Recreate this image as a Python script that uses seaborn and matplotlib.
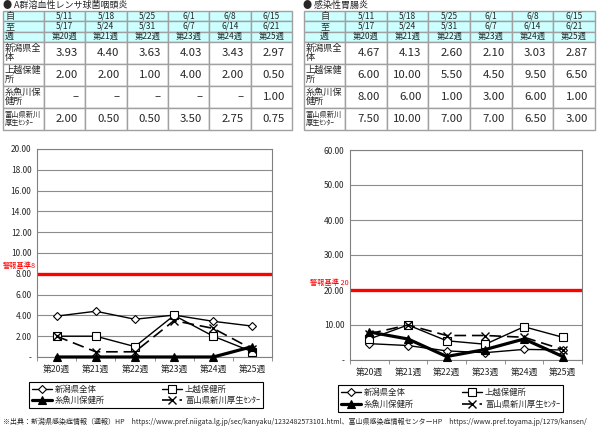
import numpy as np
import pandas as pd
import matplotlib
matplotlib.use("Agg")
import matplotlib.pyplot as plt
import matplotlib.transforms as mtransforms
from matplotlib.table import Table
import seaborn as sns

# table / chart data
from_dates = ['5/11', '5/18', '5/25', '6/1', '6/8', '6/15']
to_dates = ['5/17', '5/24', '5/31', '6/7', '6/14', '6/21']
weeks = ['第20週', '第21週', '第22週', '第23週', '第24週', '第25週']

areas = ['新潟県全体', '上越保健所', '糸魚川保健所', '富山県新川厚生ｾﾝﾀｰ']
area_rows = ['新潟県全\n体', '上越保健\n所', '糸魚川保\n健所', '富山県新川\n厚生ｾﾝﾀｰ']

strep_niigata = [3.93, 4.40, 3.63, 4.03, 3.43, 2.97]
strep_joetsu = [2.00, 2.00, 1.00, 4.00, 2.00, 0.50]
strep_itoigawa = [None, None, None, None, None, 1.00]
strep_toyama = [2.00, 0.50, 0.50, 3.50, 2.75, 0.75]

gastro_niigata = [4.67, 4.13, 2.60, 2.10, 3.03, 2.87]
gastro_joetsu = [6.00, 10.00, 5.50, 4.50, 9.50, 6.50]
gastro_itoigawa = [8.00, 6.00, 1.00, 3.00, 6.00, 1.00]
gastro_toyama = [7.50, 10.00, 7.00, 7.00, 6.50, 3.00]

strep_level = 8
gastro_level = 20

sns.set_style("white")
plt.rcParams['font.family'] = ['Noto Sans CJK JP', 'DejaVu Sans']

W, H = 600, 430
fig = plt.figure(figsize=(6, 4.3), dpi=100)


def rect(x0, y0, x1, y1):
    # pixel box (top-left origin) -> figure fraction
    return [x0 / W, 1 - y1 / H, (x1 - x0) / W, (y1 - y0) / H]


base = fig.add_axes([0, 0, 1, 1])
base.axis('off')
base.set_xlim(0, W)
base.set_ylim(H, 0)


def draw_table(box, series, head_loc):
    ax = fig.add_axes(rect(*box))
    ax.axis('off')
    tb = Table(ax, bbox=[0, 0, 1, 1])
    tb.auto_set_font_size(False)
    widths = [41] + [41.5] * 6
    heights = [10.3] * 3 + [22] * 4
    edge = '#a0a0a0'
    header = [['自'] + from_dates, ['至'] + to_dates, ['週'] + weeks]
    for r, row in enumerate(header):
        for c, txt in enumerate(row):
            cell = tb.add_cell(r, c, widths[c], heights[r], text=txt,
                               loc=head_loc if c == 0 else 'center',
                               facecolor='#ccffff', edgecolor=edge)
            cell.PAD = 0.05
            cell.get_text().set_fontsize(6.5 if c == 0 else 6)
    for i, vals in enumerate(series):
        r = 3 + i
        cell = tb.add_cell(r, 0, widths[0], heights[r], text=area_rows[i],
                           loc='left', facecolor='white', edgecolor=edge)
        cell.PAD = 0.04
        cell.get_text().set_fontsize(5.2 if i == 3 else 6.6)
        cell.get_text().set_linespacing(1.0)
        for c, v in enumerate(vals):
            txt = '–' if v is None else f'{v:.2f}'
            cell = tb.add_cell(r, c + 1, widths[c + 1], heights[r], text=txt,
                               loc='right', facecolor='white', edgecolor=edge)
            cell.PAD = 0.17
            cell.get_text().set_fontsize(8.2)
    ax.add_table(tb)


def draw_chart(box, series, ymax, ystep, level, label, legend_box):
    ax = fig.add_axes(rect(*box))
    styles = [
        dict(lw=1, marker='D', markersize=4.5, markerfacecolor='white'),
        dict(lw=1, marker='s', markersize=5.5, markerfacecolor='white'),
        dict(lw=2.3, marker='^', markersize=6, markerfacecolor='black'),
        dict(lw=1.2, marker='x', markersize=6, linestyle=(0, (7, 3.5)),
             markeredgewidth=1),
    ]
    for name, vals, st in zip(areas, series, styles):
        df = pd.DataFrame({'week': weeks,
                           'value': [0 if v is None else v for v in vals]})
        st.setdefault('markeredgewidth', 0.8)
        sns.lineplot(data=df, x='week', y='value', ax=ax, sort=False,
                     errorbar=None, color='black', markeredgecolor='black',
                     label=name, clip_on=False, zorder=3, **st)
    if ax.get_legend() is not None:
        ax.get_legend().remove()
    ax.axhline(level, color='#ff0000', lw=2.4, zorder=2)
    trans = mtransforms.blended_transform_factory(ax.transAxes, ax.transData)
    ax.annotate(label, xy=(0, level), xycoords=trans, xytext=(-1, 2.5),
                textcoords='offset points', ha='right', va='bottom',
                color='#ff0000', fontsize=5.2, annotation_clip=False)

    ax.set_xlim(-0.5, len(weeks) - 0.5)
    ax.set_ylim(0, ymax)
    yt = np.arange(0, ymax + ystep / 2, ystep)
    ax.set_yticks(yt)
    ax.set_yticklabels(['-' if t == 0 else f'{t:.2f}' for t in yt])
    ax.set_xticks(np.arange(-0.5, len(weeks), 1), minor=True)
    ax.tick_params(axis='y', length=0, labelsize=6, pad=4)
    ax.tick_params(axis='x', which='major', length=0, labelsize=6.3, pad=6)
    ax.tick_params(axis='x', which='minor', length=3, color='#808080',
                   direction='out', bottom=True)
    ax.set_xlabel('')
    ax.set_ylabel('')
    ax.yaxis.grid(True, color='#8c8c8c', lw=0.8)
    ax.xaxis.grid(False)
    for sp in ax.spines.values():
        sp.set_color('#808080')
        sp.set_linewidth(0.8)

    handles, labels = ax.get_legend_handles_labels()
    order = [0, 2, 1, 3]
    lx0, ly0, lx1, ly1 = legend_box
    leg = fig.legend([handles[i] for i in order], [labels[i] for i in order],
                     ncol=2, loc='center', mode='expand',
                     bbox_to_anchor=(lx0 / W, 1 - ly1 / H,
                                     (lx1 - lx0) / W, (ly1 - ly0) / H),
                     fontsize=6, frameon=True, fancybox=False,
                     edgecolor='black', framealpha=1, handlelength=2.4,
                     handletextpad=0.3, borderpad=0.35, labelspacing=0.3,
                     borderaxespad=0)
    leg.get_frame().set_linewidth(0.8)
    return ax


# titles
base.text(3, 5, '● A群溶血性レンサ球菌咽頭炎', fontsize=6.5, va='center', ha='left')
base.text(303, 5, '● 感染性胃腸炎', fontsize=6.5, va='center', ha='left')

draw_table((3, 11, 292, 130),
           [strep_niigata, strep_joetsu, strep_itoigawa, strep_toyama], 'left')
draw_table((304, 11, 595, 130),
           [gastro_niigata, gastro_joetsu, gastro_itoigawa, gastro_toyama], 'center')

draw_chart((37, 149, 272, 357),
           [strep_niigata, strep_joetsu, strep_itoigawa, strep_toyama],
           20, 2, strep_level, f'警報基準{strep_level}', (29, 381, 263, 409))
draw_chart((350, 150, 582, 360),
           [gastro_niigata, gastro_joetsu, gastro_itoigawa, gastro_toyama],
           60, 10, gastro_level, f'警報基準 {gastro_level}', (338, 385, 563, 412))

base.text(3, 422, '※出典：新潟県感染症情報（週報）HP　https://www.pref.niigata.lg.jp/sec/kanyaku/1232482573101.html、'
                  '富山県感染症情報センターHP　https://www.pref.toyama.jp/1279/kansen/',
          fontsize=5.0, va='center', ha='left')

fig.savefig('out.png', dpi=100)
